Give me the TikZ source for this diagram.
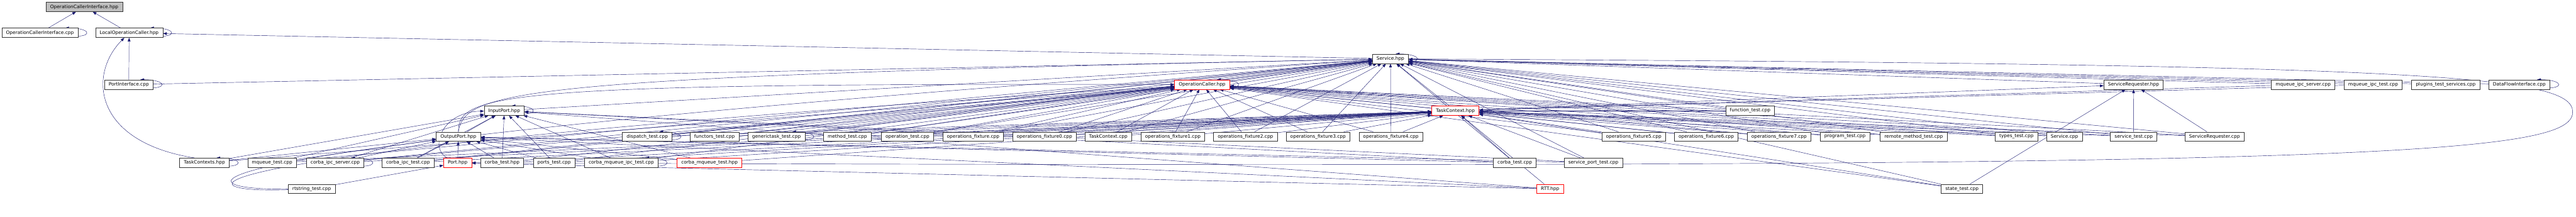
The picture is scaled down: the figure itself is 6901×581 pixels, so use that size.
\documentclass[tikz,border=0pt]{standalone}
\usepackage{fontspec}
\newfontfamily\dejavu{DejaVu Sans}
\usetikzlibrary{arrows.meta, backgrounds}
\definecolor{edgeblue}{RGB}{25,25,112}
\definecolor{focusgray}{RGB}{191,191,191}
% self include loop on the right of a box
\newcommand{\selfdep}[1]{\draw[dep] ([yshift=3pt]#1.south east) .. controls +(30pt,2pt) and +(46pt,0pt) .. ([xshift=-26pt]#1.north east);}

\begin{document}
\begin{tikzpicture}[x=0.75pt, y=-0.75pt,
    file/.style={draw=black!80, fill=white, line width=0.8pt, inner xsep=8.4pt, inner ysep=0pt,
      minimum height=18.75pt, font=\dejavu\fontsize{9.4}{11}\selectfont},
    trunc/.style={file, draw=red},
    focus/.style={file, fill=focusgray},
    dep/.style={-{Triangle[length=7.5pt, width=5.5pt]}, draw=edgeblue, line width=0.55pt}]
  \useasboundingbox (0,0) rectangle (6901,581);

  % top rows
  \node[focus] (ocihpp) at (225.8,18.5) {OperationCallerInterface.hpp};
  \node[file] (ocicpp) at (107,88) {OperationCallerInterface.cpp};
  \node[file] (lochpp) at (346,88) {LocalOperationCaller.hpp};
  \node[file] (svchpp) at (3725,157.5) {Service.hpp};
  \node[file] (picpp) at (345,226.5) {PortInterface.cpp};
  \node[trunc] (ochpp) at (3220.5,226.5) {OperationCaller.hpp};
  \node[file] (srhpp) at (5715.6,226.5) {ServiceRequester.hpp};
  \node[file] (mqipcsrv) at (6170,226.5) {mqueue\_ipc\_server.cpp};
  \node[file] (mqipctest) at (6357.6,226.5) {mqueue\_ipc\_test.cpp};
  \node[file] (plugins) at (6551.8,226.5) {plugins\_test\_services.cpp};
  \node[file] (dficpp) at (6749,226.5) {DataFlowInterface.cpp};
  \node[file] (iphpp) at (1351,296.5) {InputPort.hpp};
  \node[trunc] (tchpp) at (3899,296.5) {TaskContext.hpp};
  \node[file] (functiontest) at (4688.5,296.5) {function\_test.cpp};

  % test sources
  \node[file] (ophpp) at (1228,366) {OutputPort.hpp};
  \node[file] (dispatch) at (1734,366) {dispatch\_test.cpp};
  \node[file] (functors) at (1914,366) {functors\_test.cpp};
  \node[file] (generictask) at (2080,366) {generictask\_test.cpp};
  \node[file] (method) at (2270,366) {method\_test.cpp};
  \node[file] (operation) at (2431,366) {operation\_test.cpp};
  \node[file] (fixture) at (2607,366) {operations\_fixture.cpp};
  \node[file] (fixture0) at (2798,366) {operations\_fixture0.cpp};
  \node[file] (tccpp) at (2969,366) {TaskContext.cpp};
  \node[file] (fixture1) at (3142,366) {operations\_fixture1.cpp};
  \node[file] (fixture2) at (3336.5,366) {operations\_fixture2.cpp};
  \node[file] (fixture3) at (3531,366) {operations\_fixture3.cpp};
  \node[file] (fixture4) at (3726,366) {operations\_fixture4.cpp};
  \node[file] (fixture5) at (4376.5,366) {operations\_fixture5.cpp};
  \node[file] (fixture6) at (4571,366) {operations\_fixture6.cpp};
  \node[file] (fixture7) at (4766,366) {operations\_fixture7.cpp};
  \node[file] (program) at (4942.5,366) {program\_test.cpp};
  \node[file] (remotemethod) at (5126.6,366) {remote\_method\_test.cpp};
  \node[file] (types) at (5402,366) {types\_test.cpp};
  \node[file] (svccpp) at (5530.5,366) {Service.cpp};
  \node[file] (servicetest) at (5716,366) {service\_test.cpp};
  \node[file] (srcpp) at (5932.5,366) {ServiceRequester.cpp};

  \node[file] (tcshpp) at (547.7,436) {TaskContexts.hpp};
  \node[file] (mqueuetest) at (729,436) {mqueue\_test.cpp};
  \node[file] (ipcserver) at (898,436) {corba\_ipc\_server.cpp};
  \node[file] (ipctest) at (1093,436) {corba\_ipc\_test.cpp};
  \node[trunc] (porthpp) at (1226,436) {Port.hpp};
  \node[file] (corbatesthpp) at (1345,436) {corba\_test.hpp};
  \node[file] (portstest) at (1484.6,436) {ports\_test.cpp};
  \node[file] (cmqipctest) at (1664.5,436) {corba\_mqueue\_ipc\_test.cpp};
  \node[trunc] (cmqtesthpp) at (1900.7,436) {corba\_mqueue\_test.hpp};
  \node[file] (corbatestcpp) at (4058,436) {corba\_test.cpp};
  \node[file] (serviceport) at (4268.5,436) {service\_port\_test.cpp};

  \node[file] (rtstring) at (835,506) {rtstring\_test.cpp};
  \node[trunc] (rtthpp) at (4152.6,506) {RTT.hpp};
  \node[file] (statetest) at (5256,506) {state\_test.cpp};

  \coordinate (rightturn) at (6892,300);

  \begin{scope}[on background layer]
    \draw[dep] (ocicpp) -- (ocihpp);
    \draw[dep] (lochpp) -- (ocihpp);
    \draw[dep] (svchpp) -- (lochpp);
    \draw[dep] (picpp) -- (lochpp);
    \draw[dep] ([xshift=-20pt]tcshpp.north) .. controls (250,380) and (235,200) .. (lochpp);

    \foreach \src in {picpp, ochpp, tchpp, iphpp, srhpp, mqipcsrv, mqipctest, plugins, dficpp,
        functiontest, dispatch, functors, generictask, method, operation, fixture, fixture0,
        tccpp, fixture1, fixture2, fixture3, fixture4, fixture5, fixture6, fixture7, program,
        remotemethod, types, svccpp, servicetest, srcpp, portstest, serviceport, statetest,
        corbatestcpp, mqueuetest, ipcserver, ipctest}
      \draw[dep] (\src) -- (svchpp);

    \foreach \src in {tchpp, dispatch, functors, generictask, method, operation, fixture,
        fixture0, tccpp, fixture1, fixture2, fixture3, fixture4, fixture5, fixture6, fixture7,
        program, remotemethod, types, svccpp, servicetest, srcpp, functiontest, tcshpp,
        ipcserver, ipctest, cmqipctest, corbatesthpp, statetest}
      \draw[dep] (\src) -- (ochpp);

    \foreach \src in {dispatch, functors, generictask, method, operation, fixture, fixture0,
        tccpp, fixture1, fixture2, fixture3, fixture4, fixture5, fixture6, fixture7, program,
        remotemethod, types, svccpp, servicetest, srcpp, functiontest, mqipcsrv, mqipctest,
        corbatestcpp, serviceport, rtthpp, statetest, ipcserver, ipctest, mqueuetest,
        portstest, cmqipctest, cmqtesthpp, corbatesthpp}
      \draw[dep] (\src) -- (tchpp);

    \foreach \src in {ophpp, corbatesthpp, portstest, cmqipctest, cmqtesthpp, tcshpp,
        mqueuetest, ipcserver, ipctest, corbatestcpp, serviceport, rtthpp}
      \draw[dep] (\src) -- (iphpp);

    \foreach \src in {porthpp, corbatesthpp, portstest, cmqipctest, cmqtesthpp, tcshpp,
        mqueuetest, ipcserver, ipctest, corbatestcpp, serviceport, rtthpp}
      \draw[dep] (\src) -- (ophpp);

    \foreach \src in {tchpp, servicetest, srcpp, statetest}
      \draw[dep] (\src) -- (srhpp);

    \draw[dep] (rtstring) -- (porthpp);
    \draw[dep] (rtthpp) -- (porthpp);
    \draw[dep] (porthpp) .. controls (1150,400) and (1180,300) .. (iphpp);
    \draw[dep] (ophpp.north) .. controls (1226,250) and (1350,222) .. (ochpp);
    \draw[dep] (ophpp.north) .. controls (1245,240) and (1400,205) .. (svchpp);
    \draw[dep] (rtstring) .. controls (420,510) and (420,380) .. (svchpp);
    \draw[dep] (rtstring) .. controls (440,520) and (440,400) .. (ochpp);
    \draw[dep] (svchpp) .. controls (6500,172) and (6892,200) .. (rightturn)
      .. controls (6892,420) and (6300,455) .. (porthpp);

    \selfdep{ocicpp}
    \selfdep{lochpp}
    \selfdep{picpp}
    \selfdep{svchpp}
    \selfdep{ochpp}
    \selfdep{iphpp}
    \selfdep{tcshpp}
    \selfdep{ipcserver}
    \selfdep{cmqipctest}
    \selfdep{dispatch}
    \selfdep{generictask}
    \selfdep{dficpp}
  \end{scope}
\end{tikzpicture}
\end{document}
